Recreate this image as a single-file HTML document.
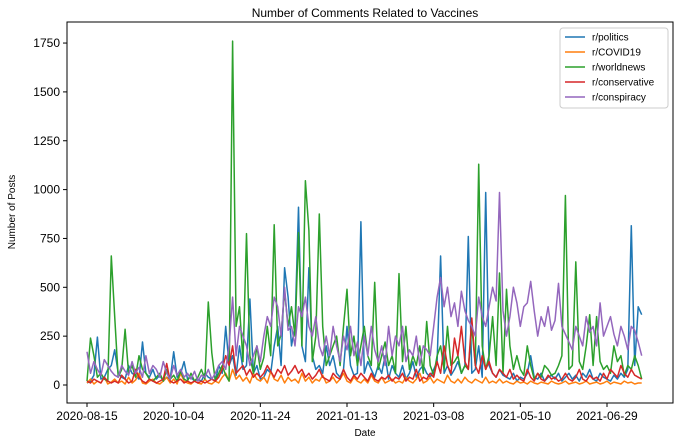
<!DOCTYPE html>
<html><head><meta charset="utf-8"><style>
body{margin:0;background:#fff;}
svg{display:block;font-family:"Liberation Sans","DejaVu Sans",sans-serif;}
</style></head><body>
<svg id="chart" width="679" height="444" xmlns="http://www.w3.org/2000/svg">
<rect width="679" height="444" fill="#fff"/>
<text x="365" y="17" text-anchor="middle" font-size="12">Number of Comments Related to Vaccines</text>
<text x="365" y="436" text-anchor="middle" font-size="10">Date</text>
<text transform="translate(15,212) rotate(-90)" text-anchor="middle" font-size="10">Number of Posts</text>
<g id="plot"></g>
<rect x="67" y="22" width="606" height="381" fill="none" stroke="#000" stroke-width="1"/>
</svg>
<script>
const stepIdx = 2;
const xTickLabels = ["2020-08-15","2020-10-04","2020-11-24","2021-01-13","2021-03-08","2021-05-10","2021-06-29"];
const xTickIdx = [0,50,100,150,200,250,300];
const yTicks = [0,250,500,750,1000,1250,1500,1750];
const seriesNames = ["r/politics","r/COVID19","r/worldnews","r/conservative","r/conspiracy"];
const seriesColors = ["#1f77b4","#ff7f0e","#2ca02c","#d62728","#9467bd"];
const politics = [10,20,50,245,30,40,80,100,180,60,40,30,100,60,50,30,220,60,40,80,30,50,20,40,30,170,40,60,120,30,40,20,30,20,60,40,30,20,100,60,300,100,150,50,200,80,100,440,60,100,30,40,80,60,200,300,100,600,450,200,300,910,200,120,600,150,80,100,60,200,100,150,60,40,80,300,100,50,60,835,60,120,80,40,100,60,150,30,100,60,40,100,30,60,120,40,80,100,60,40,80,120,660,60,100,50,80,120,60,100,760,60,80,200,40,985,100,60,40,80,50,40,30,60,20,40,30,60,150,40,30,60,20,40,50,30,60,20,40,60,30,50,20,60,40,80,30,20,60,40,30,20,50,30,60,40,80,815,100,400,360];
const covid19 = [10,30,5,20,10,40,5,15,30,10,20,5,40,10,25,60,10,5,20,30,10,5,20,40,10,30,5,60,20,10,5,20,10,5,30,10,5,20,10,40,60,20,80,30,50,20,40,10,60,30,20,40,10,70,30,20,50,10,40,20,30,10,60,20,40,10,30,20,50,10,20,40,10,30,60,20,10,40,20,10,30,10,50,20,10,40,10,20,30,10,20,10,40,20,10,30,60,10,20,40,10,30,20,10,50,20,10,30,10,40,20,10,30,20,10,40,10,20,10,30,10,20,10,5,20,10,15,5,20,10,5,15,10,5,20,10,5,10,20,5,10,15,5,10,20,5,10,15,5,10,20,5,15,10,5,20,10,15,5,10,10];
const worldnews = [20,240,150,40,60,30,20,660,350,40,80,285,60,100,40,150,80,60,30,20,40,60,20,80,30,50,20,70,30,20,60,20,40,80,30,425,165,20,60,100,50,20,1760,300,400,120,775,150,60,200,80,140,300,150,820,200,260,480,300,400,250,780,200,1045,790,120,250,875,300,100,150,200,250,100,300,490,150,250,100,200,300,150,100,525,80,150,220,100,150,60,570,120,300,80,150,100,200,60,325,100,50,150,200,80,300,100,120,150,60,100,80,300,100,1130,200,80,150,350,100,573,60,490,200,80,150,80,50,200,100,30,60,40,100,80,50,60,100,150,970,80,100,630,120,80,200,360,100,350,120,80,100,60,200,120,150,50,100,80,150,100,30];
const conservative = [20,10,30,20,10,40,20,10,20,10,50,30,10,20,80,40,20,10,30,20,10,20,30,110,20,10,20,30,10,20,10,20,10,20,10,20,30,20,40,80,150,100,200,60,80,100,50,80,40,60,40,60,100,70,40,80,60,100,50,70,100,60,80,40,60,30,50,80,40,30,20,60,40,30,80,40,20,50,30,60,40,20,60,30,20,40,30,50,20,40,30,60,20,40,30,80,20,40,30,60,40,120,60,200,100,60,240,150,300,120,80,343,100,60,150,80,120,60,40,80,60,40,80,30,50,30,20,80,40,20,60,30,20,50,30,40,20,30,60,30,20,40,80,30,20,50,30,40,20,60,30,80,60,40,100,60,40,80,50,40,30];
const conspiracy = [170,60,120,80,50,130,100,70,50,40,100,70,50,120,60,90,40,150,60,100,80,40,120,60,30,100,50,80,40,60,30,70,20,50,40,80,30,60,100,120,80,200,450,150,300,250,200,100,150,200,120,250,350,300,450,400,250,500,280,300,200,400,350,450,300,250,350,200,150,250,150,300,200,120,250,180,300,150,220,100,250,150,300,180,120,200,100,300,150,250,200,300,120,180,150,250,100,200,180,150,300,450,550,400,500,350,420,300,480,380,330,300,250,450,350,300,400,500,430,985,380,250,350,500,420,300,400,420,530,380,250,350,300,400,280,330,520,300,260,220,180,300,250,200,350,270,300,200,420,250,300,350,260,200,300,250,180,300,280,220,150];
const seriesValues = [politics,covid19,worldnews,conservative,conspiracy];

const NS="http://www.w3.org/2000/svg";
const plot=document.getElementById('plot');
const svg=document.getElementById('chart');
function xScale(idx){return 87+idx*1.7333;}
function yScale(v){return 385-v*0.1954;}
function mk(tag,attrs,parent){const e=document.createElementNS(NS,tag);for(const k in attrs)e.setAttribute(k,attrs[k]);parent.appendChild(e);return e;}

yTicks.forEach(function(t){
  const y=yScale(t);
  const tk=mk('line',{x1:63,x2:67,y1:y,y2:y,stroke:'#000'},svg);
  
  
  const lb=mk('text',{x:60,y:y+4,'text-anchor':'end','font-size':'12'},svg);
  lb.textContent=t;
  
  
});
xTickIdx.forEach(function(d,i){
  const x=xScale(d);
  const tk=mk('line',{x1:x,x2:x,y1:403,y2:407,stroke:'#000'},svg);
  
  
  const lb=mk('text',{x:x,y:420,'text-anchor':'middle','font-size':'12'},svg);
  lb.textContent=xTickLabels[i];
  
  
});
seriesValues.forEach(function(vals,s){
  const pts=vals.map(function(v,i){return xScale(i*stepIdx).toFixed(1)+','+yScale(v).toFixed(1);}).join(' ');
  const pl=mk('polyline',{points:pts,fill:'none',stroke:seriesColors[s],'stroke-width':'1.5','stroke-linejoin':'round'},plot);
  
  
});
const lg=mk('g',{},svg);


mk('rect',{x:560,y:28,width:108,height:80,rx:3,fill:'#fff','fill-opacity':'0.85',stroke:'#ccc'},lg);
seriesNames.forEach(function(n,i){
  const y=37+i*15;
  const e=mk('g',{},lg);
  
  
  mk('line',{x1:565,x2:585,y1:y,y2:y,stroke:seriesColors[i],'stroke-width':'1.5'},e);
  const t=mk('text',{x:592,y:y+3.5,'font-size':'10'},e);
  t.textContent=n;
});
</script>
</body></html>
